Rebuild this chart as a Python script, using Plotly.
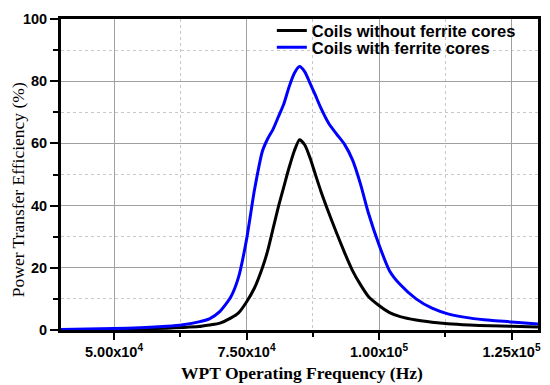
import plotly.graph_objects as go

freq = [40000, 50000, 55000, 60000, 63000, 66000, 68000, 70000, 72000, 73500,
        75000, 76500, 78000, 79000, 80000, 81000, 82000, 83000, 84000, 85000,
        86000, 87000, 88000, 89000, 90500, 92000, 93500, 95000, 96500, 98000,
        100000, 102000, 104000, 107000, 110000, 113000, 117000, 121000, 125000, 130000]

eff_without = [0.1, 0.2, 0.35, 0.6, 0.8, 1.1, 1.6, 2.2, 3.8, 5.5,
               9, 13.5, 20, 25.5, 32.5, 39.5, 45.8, 52, 57.5, 61.2,
               59.5, 55.3, 50, 44.8, 37.8, 31.2, 24.9, 19.1, 14.6, 10.8,
               7.9, 5.6, 4.3, 3.2, 2.5, 2.0, 1.6, 1.35, 1.2, 1.0]

eff_with = [0.2, 0.45, 0.7, 1.2, 1.7, 2.6, 3.6, 6.0, 10.5, 17,
            29, 45, 57.5, 61.5, 64.5, 68.5, 72.5, 78, 82.5, 84.7,
            83, 79.3, 75.5, 71.5, 66.5, 63, 59.7, 54.7, 47, 37.6,
            27.4, 19, 14.6, 10, 7, 5.2, 3.9, 3.1, 2.6, 1.9]

series_names = ["Coils without ferrite cores", "Coils with ferrite cores"]

x_tickvals = [50000, 75000, 100000, 125000]
x_ticktext = ["5.00x10<sup>4</sup>", "7.50x10<sup>4</sup>", "1.00x10<sup>5</sup>", "1.25x10<sup>5</sup>"]
y_tickvals = [0, 20, 40, 60, 80, 100]

x_title = "WPT Operating Frequency (Hz)"
y_title = "Power Transfer Efficiency (%)"

fig = go.Figure()
fig.add_trace(go.Scatter(x=freq, y=eff_without, mode="lines", name="<b>%s</b>" % series_names[0],
                         legend="legend",
                         line=dict(color="black", width=3, shape="spline", smoothing=0.6)))
fig.add_trace(go.Scatter(x=freq, y=eff_with, mode="lines", name="<b>%s</b>" % series_names[1],
                         legend="legend2",
                         line=dict(color="#0000ff", width=3, shape="spline", smoothing=0.6)))

tickfont = dict(family="Liberation Sans, Arial, sans-serif", size=14.5, color="black")
legfont = dict(family="Liberation Sans, Arial, sans-serif", size=16.5, color="black")

fig.update_layout(
    width=542, height=377,
    margin=dict(l=53, r=12, t=5, b=55),
    paper_bgcolor="white", plot_bgcolor="white",
    showlegend=True,
    legend=dict(x=0.442, y=0.962, xanchor="left", yanchor="middle",
                bgcolor="rgba(0,0,0,0)", borderwidth=0, font=legfont),
    legend2=dict(x=0.442, y=0.9085, xanchor="left", yanchor="middle",
                 bgcolor="rgba(0,0,0,0)", borderwidth=0, font=legfont),
    xaxis=dict(
        range=[40000, 130000], automargin=False,
        tickvals=x_tickvals, ticktext=["<b>%s</b>" % t for t in x_ticktext],
        tickfont=tickfont,
        ticks="outside", ticklen=7, tickwidth=2, tickcolor="black",
        showline=True, linecolor="black", linewidth=3, mirror=True,
        showgrid=True, gridcolor="#a0a0a0", gridwidth=1,
        zeroline=False,
        minor=dict(dtick=25000, tick0=37500, ticks="outside", ticklen=4, tickwidth=2,
                   tickcolor="black", showgrid=True, gridcolor="#c8c8c8", griddash="dot", gridwidth=1),
    ),
    xaxis2=dict(
        range=[40000, 130000], overlaying="x", side="top", automargin=False,
        tickvals=[50000, 62500, 75000, 87500, 100000, 112500, 125000],
        showticklabels=False, ticks="inside", ticklen=5, tickwidth=2, tickcolor="black",
        showgrid=False, zeroline=False, showline=False,
    ),
    yaxis=dict(
        range=[0, 100], automargin=False,
        tickvals=y_tickvals, ticktext=["<b>%d</b>" % v for v in y_tickvals],
        tickfont=tickfont,
        ticks="outside", ticklen=8, tickwidth=2, tickcolor="black",
        showline=True, linecolor="black", linewidth=3, mirror=True,
        showgrid=True, gridcolor="#a0a0a0", gridwidth=1,
        zeroline=False,
        minor=dict(dtick=20, tick0=10, ticks="outside", ticklen=5, tickwidth=2,
                   tickcolor="black", showgrid=True, gridcolor="#c8c8c8", griddash="dot", gridwidth=1),
    ),
    annotations=[
        dict(text="<b>%s</b>" % x_title, xref="paper", yref="paper", x=0.505, y=-0.139,
             xanchor="center", yanchor="middle", showarrow=False,
             font=dict(family="Liberation Serif, Times New Roman, serif", size=17.5, color="black")),
        dict(text=y_title, xref="paper", yref="paper", x=-0.0912, y=0.451,
             xanchor="center", yanchor="middle", showarrow=False, textangle=-90,
             font=dict(family="Liberation Serif, Times New Roman, serif", size=17.5, color="black")),
    ],
)

fig.write_html("out.html")
